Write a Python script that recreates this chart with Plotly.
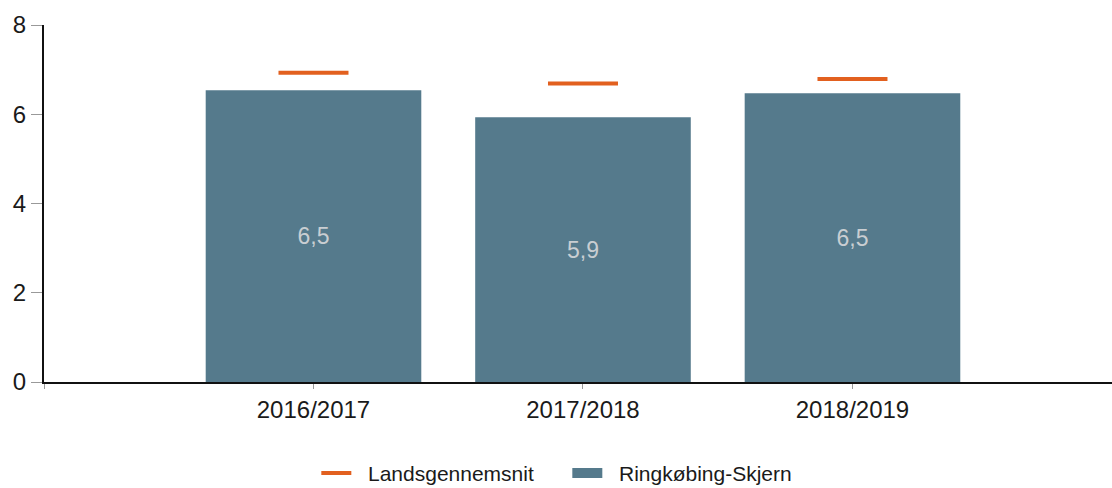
import plotly.graph_objects as go

categories = ["2016/2017", "2017/2018", "2018/2019"]
kommune_values = [6.54, 5.93, 6.47]
kommune_labels = ["6,5", "5,9", "6,5"]
lands_values = [6.93, 6.69, 6.79]
y_ticks = [0, 2, 4, 6, 8]

xpos = list(range(len(categories)))
bar_color = "#557a8c"
orange = "#e2601f"
pad = "\u00a0\u00a0"

fig = go.Figure()
fig.add_trace(go.Bar(
    x=xpos, y=kommune_values, name="Ringkøbing-Skjern", showlegend=False,
    marker=dict(color=bar_color, line=dict(width=0)),
    width=0.8,
    text=kommune_labels, textposition="inside", insidetextanchor="middle",
    textfont=dict(color="#c9ced2", size=23, family="Liberation Sans"),
    hoverinfo="skip",
))
fig.add_trace(go.Scatter(
    x=xpos, y=lands_values, mode="markers", showlegend=False,
    marker=dict(symbol="line-ew", size=50, line=dict(color=orange, width=4)),
    hoverinfo="skip",
))
# legend entries
fig.add_trace(go.Scatter(
    x=[None], y=[None], mode="lines", name=pad + "Landsgennemsnit",
    line=dict(color=orange, width=4), legendrank=1,
))
fig.add_trace(go.Scatter(
    x=[None], y=[None], mode="lines", name=pad + "Ringkøbing-Skjern",
    line=dict(color=bar_color, width=19), legendrank=2,
))

fig.update_layout(
    width=1112, height=488,
    margin=dict(l=44, r=0, t=25, b=106, autoexpand=False),
    plot_bgcolor="white", paper_bgcolor="white",
    font=dict(family="Liberation Sans", color="#1a1a1a"),
    showlegend=True,
    legend=dict(orientation="h", x=0.49, xanchor="center", y=-0.313, yanchor="bottom",
                font=dict(size=21), traceorder="normal", entrywidth=206),
)
fig.update_xaxes(
    range=[-1, 2.963],
    tickvals=[-1] + xpos, ticktext=[""] + categories,
    tickfont=dict(size=24), ticks="outside", ticklen=5, tickcolor="#999999",
    showline=True, linecolor="#111111", linewidth=2, showgrid=False, zeroline=False,
)
fig.update_yaxes(
    range=[0, 8], tickvals=y_ticks,
    tickfont=dict(size=24), ticks="outside", ticklen=11, tickcolor="#999999",
    showline=True, linecolor="#111111", linewidth=2, showgrid=False, zeroline=False,
)

fig.write_html("out.html", config={"displayModeBar": False},
               post_script="document.body.style.margin='0';")
